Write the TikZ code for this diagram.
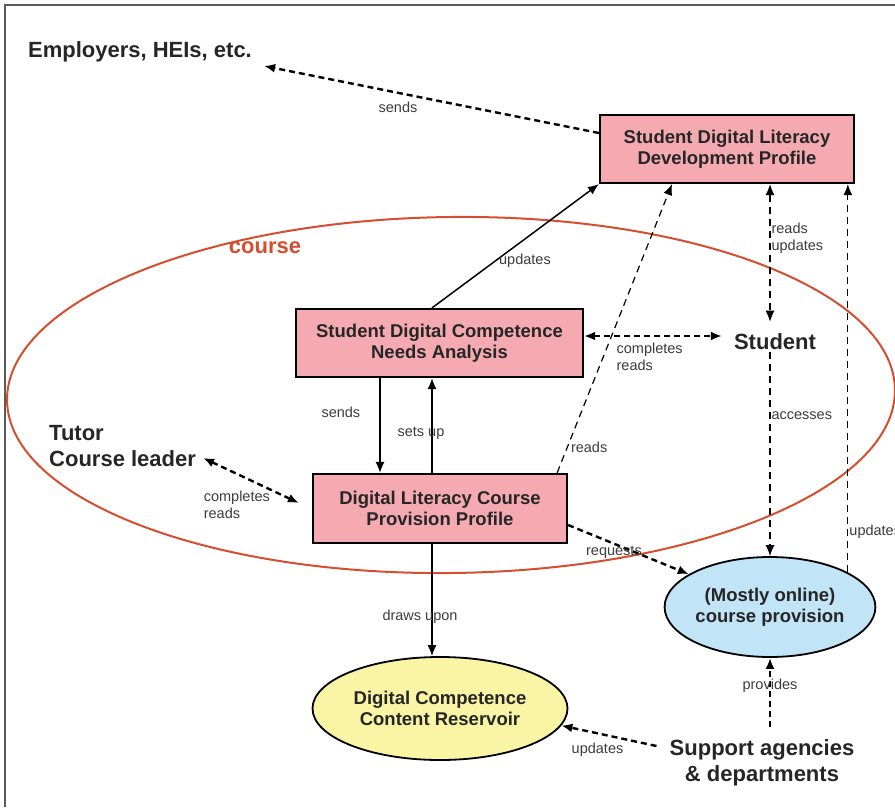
\documentclass[tikz,border=0pt]{standalone}
\usepackage{fontspec}
\setmainfont{Liberation Sans}
\usetikzlibrary{arrows.meta,shapes.geometric,calc}
\definecolor{boxpink}{RGB}{245,170,178}
\definecolor{ovblue}{RGB}{193,228,246}
\definecolor{ovyellow}{RGB}{250,244,165}
\definecolor{coursered}{RGB}{214,78,48}
\definecolor{lblgray}{RGB}{60,60,60}
\definecolor{framegray}{RGB}{90,90,90}
\tikzset{
  procbox/.style={draw=black, line width=2.2pt, fill=boxpink, font=\fontsize{18.5}{21.5}\selectfont\bfseries, align=center, inner sep=0pt, text=black!85},
  ovalnode/.style={ellipse, draw=black, line width=1.8pt, font=\fontsize{18.5}{21.5}\selectfont\bfseries, align=center, inner sep=0pt, text=black!85},
  actor/.style={font=\fontsize{22}{26}\selectfont\bfseries, inner sep=2pt, text=black!85},
  lbl/.style={font=\fontsize{14.5}{17}\selectfont, text=lblgray, inner sep=1pt},
  arr/.style={-{Latex[length=11pt,width=9pt]}},
  biarr/.style={{Latex[length=11pt,width=9pt]}-{Latex[length=11pt,width=9pt]}},
  solidln/.style={line width=1.5pt},
  dthick/.style={line width=2.4pt, dash pattern=on 6pt off 4pt},
  dthin/.style={line width=1.2pt, dash pattern=on 7pt off 5pt},
}
\begin{document}
\begin{tikzpicture}[x=1pt,y=-1pt]
\useasboundingbox (0,0) rectangle (895,807);
\fill[white] (0,0) rectangle (895,807);
\draw[framegray, line width=2pt] (5,807) -- (5,5) -- (895,5);

% course ellipse
\draw[coursered, line width=2pt, rotate around={0.7:(451,395)}] (451,395) ellipse [x radius=444, y radius=178];
\node[font=\fontsize{22}{26}\selectfont\bfseries, text=coursered] (courselbl) at (265,248) {course};

% boxes and ovals
\node[procbox, minimum width=254pt, minimum height=68pt] (sdldp) at (727,149) {Student Digital Literacy\\Development Profile};
\node[procbox, minimum width=287pt, minimum height=68pt] (sdcna) at (439.5,343) {Student Digital Competence\\Needs Analysis};
\node[procbox, minimum width=254pt, minimum height=69pt] (dlcpp) at (440,508.5) {Digital Literacy Course\\Provision Profile};
\node[ovalnode, fill=ovblue, minimum width=204pt, minimum height=100pt] (online) at (770,607) {(Mostly online)\\course provision};
\node[ovalnode, fill=ovyellow, minimum width=255pt, minimum height=103pt] (reservoir) at (440,708.5) {Digital Competence\\Content Reservoir};

% actors
\node[actor] (emp) at (140,52) {Employers, HEIs, etc.};
\node[actor] (student) at (775,342) {Student};
\node[actor, align=left, anchor=west] (tutor) at (47,446) {Tutor\\Course leader};
\node[actor, align=center] (support) at (762,763) {Support agencies\\\& departments};

% helper coordinates
\coordinate (stuTop) at ([yshift=10pt]student.north);
\coordinate (stuL) at ([xshift=-10pt]student.west);
\coordinate (sdcnaE) at ([yshift=7pt]sdcna.east);
\coordinate (sdldpS) at ([xshift=43pt]sdldp.south);
\coordinate (sendTop) at ([xshift=-59.5pt]sdcna.south);
\coordinate (setBot) at ([xshift=-8pt]dlcpp.north);
\coordinate (drawTop) at ([xshift=-8pt]dlcpp.south);
\coordinate (provBot) at (online.south |- support.north);

% connectors
\draw[dthick,arr] ([yshift=16pt]sdldp.west) -- ([xshift=10pt,yshift=-14pt]emp.east) node[lbl,pos=0.6,yshift=-15pt]{sends};
\draw[solidln,arr] ([xshift=-7.5pt]sdcna.north) -- (sdldp.south west) node[lbl,pos=0.38,anchor=west,xshift=2pt]{updates};
\draw[dthin,arr] ([xshift=-11pt]dlcpp.north east) -- ([xshift=-55pt]sdldp.south) node[lbl,pos=0.09,anchor=west,xshift=2pt]{reads};
\draw[dthin,biarr] (sdldpS) -- (sdldpS |- stuTop) node[lbl,pos=0.39,anchor=west,align=left]{reads\\updates};
\draw[dthick,biarr] (sdcnaE) -- (sdcnaE -| stuL) node[lbl,pos=0.22,anchor=north west,align=left,yshift=-5pt]{completes\\reads};
\draw[dthin,arr] (online.north |- student.south) -- (online.north) node[lbl,pos=0.31,anchor=west]{accesses};
\draw[dthin,arr] (online.24) -- (online.24 |- sdldp.south) node[lbl,pos=0.105,anchor=west]{updates};
\draw[solidln,arr] (sendTop) -- (sendTop |- dlcpp.north) node[lbl,pos=0.36,anchor=east,xshift=-18pt]{sends};
\draw[solidln,arr] (setBot) -- (setBot |- sdcna.south) node[lbl,pos=0.42,xshift=-11pt]{sets up};
\draw[dthick,biarr] ([xshift=5pt,yshift=-12pt]tutor.east) -- ([xshift=-13pt,yshift=5.5pt]dlcpp.west) node[lbl,pos=0.95,anchor=east,align=left,xshift=-22pt,yshift=-4pt]{completes\\reads};
\draw[dthick,arr] ([yshift=-16.5pt]dlcpp.east) -- (online.158) node[lbl,pos=0.38,yshift=-9pt]{requests};
\draw[solidln,arr] (drawTop) -- (drawTop |- reservoir.north) node[lbl,pos=0.65,xshift=-12pt]{draws upon};
\draw[dthick,arr] ([xshift=-11pt,yshift=17pt]support.west) -- (reservoir.-8) node[lbl,pos=0.62,yshift=-16pt]{updates};
\draw[dthick,arr] ([yshift=11pt]provBot) -- (online.south) node[lbl,pos=0.6]{provides};
\end{tikzpicture}
\end{document}
